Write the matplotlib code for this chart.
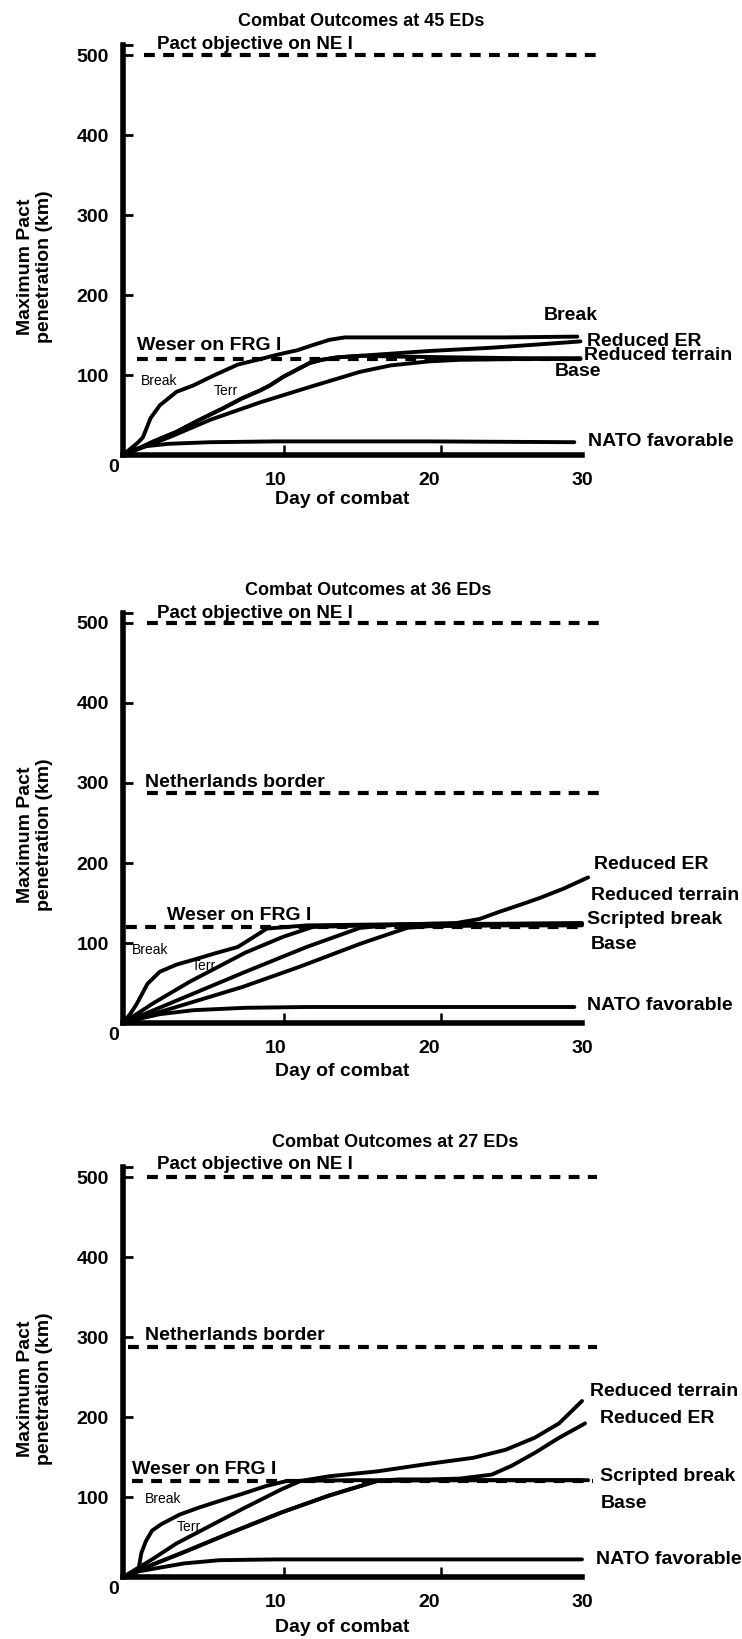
import matplotlib
matplotlib.use("Agg")
import matplotlib.pyplot as plt

plt.rcParams['font.family'] = ['Liberation Sans', 'DejaVu Sans']
plt.rcParams['font.weight'] = 'bold'

# reference levels (km)
pact_km = 500
netherlands_km = 288
weser_km = 120

titles = ["Combat Outcomes at 45 EDs", "Combat Outcomes at 36 EDs", "Combat Outcomes at 27 EDs"]

# --- 45 EDs ---
d_break45 = [0, 0.5, 1.0, 1.3, 1.8, 2.4, 3.5, 4.6, 6.0, 7.5, 9.0, 10.0, 11.4, 12.5, 13.5, 14.5, 20, 25, 29.7]
k_break45 = [0, 8, 16, 22, 46, 62, 79, 87, 100, 113, 120, 125, 131, 138, 144, 147, 147, 147, 148]
d_terr45 = [0, 1, 2, 3.5, 5, 6.5, 7.8, 9, 9.6, 10.5, 11.3, 12.2, 13, 14, 15.5, 18, 22, 26, 29.9]
k_terr45 = [0, 8, 17, 29, 44, 58, 71, 81, 87, 98, 106, 115, 119, 122, 124, 123, 122, 121, 121]
d_er45 = [0, 1, 2, 3.5, 5, 6.5, 7.8, 9, 9.6, 10.5, 11.3, 12.2, 13, 14, 17, 20, 24, 27, 29.9]
k_er45 = [0, 8, 17, 29, 44, 58, 71, 81, 87, 98, 106, 115, 119, 122, 126, 130, 134, 138, 142]
d_base45 = [0, 3, 5.7, 9, 12.2, 15.5, 17.5, 20, 22, 26, 29.9]
k_base45 = [0, 22, 44, 66, 85, 104, 112, 117, 119, 120, 120]
d_nato45 = [0, 0.7, 1.5, 3, 5.7, 10, 20, 29.5]
k_nato45 = [0, 7, 11, 14, 16, 17, 17, 16]

# --- 36 EDs ---
d_break36 = [0, 0.5, 0.9, 1.6, 2.4, 3.5, 4.6, 6, 7.5, 8.5, 9.4, 12, 16, 20, 25, 30]
k_break36 = [0, 12, 24, 49, 64, 73, 79, 87, 95, 107, 118, 122, 123, 124, 124, 124]
d_terr36 = [0, 2, 4.4, 8, 10.5, 12.4, 16, 20, 25, 30]
k_terr36 = [0, 25, 52, 88, 108, 120, 122, 123, 124, 125]
d_er36 = [0, 4, 8, 12, 15.5, 18, 21.8, 23.3, 24.6, 26, 27.2, 28.8, 30.4]
k_er36 = [0, 32, 64, 95, 119, 123, 125, 130, 139, 148, 156, 168, 182]
d_base36 = [0, 4, 7.8, 11.5, 15.5, 17.5, 18.6, 20, 25, 30]
k_base36 = [0, 23, 45, 70, 99, 112, 119, 121, 122, 122]
d_nato36 = [0, 1, 2.4, 4.6, 8, 12, 20, 29.5]
k_nato36 = [0, 5, 11, 16, 19, 20, 20, 20]

# --- 27 EDs ---
d_break27 = [0, 0.7, 1.0, 1.2, 1.5, 1.9, 2.5, 3.7, 5, 6.3, 7.8, 9.4, 10.7, 15, 20, 25, 30.4]
k_break27 = [0, 2, 8, 30, 45, 58, 66, 78, 87, 95, 104, 114, 120, 121, 121, 121, 121]
d_terr27 = [0, 1.9, 3.5, 5.1, 7.9, 10.4, 11.6, 13.5, 16.6, 19.8, 22.9, 25, 26.9, 28.5, 30]
k_terr27 = [0, 22, 42, 58, 86, 110, 120, 126, 132, 141, 149, 159, 174, 192, 220]
d_er27 = [0, 2, 4.1, 7, 10.4, 13.5, 16.6, 18, 20, 22, 24.1, 25.4, 26.9, 28.5, 30.2]
k_er27 = [0, 16, 32, 55, 81, 102, 120, 122, 122, 123, 128, 139, 155, 174, 192]
d_base27 = [0, 2, 4.1, 7, 10.4, 13.5, 16.6, 20, 25, 30]
k_base27 = [0, 16, 32, 55, 81, 102, 120, 121, 121, 121]
d_nato27 = [0, 1, 2.5, 4, 6.3, 10, 20, 30]
k_nato27 = [0, 7, 12, 17, 21, 22, 22, 22]

W, H = 742, 1639
PX_DAY = 15.3
PX_KM = 0.8
X0 = 123

fig = plt.figure(figsize=(W / 100, H / 100), dpi=100)


def make_axes(y0, xlab_km):
    ax = fig.add_axes([X0 / W, (H - y0) / H, 34 * PX_DAY / W, 512 * PX_KM / H])
    ax.set_xlim(0, 34)
    ax.set_ylim(0, 512)
    for s in ['top', 'right']:
        ax.spines[s].set_visible(False)
    ax.spines['left'].set_linewidth(4)
    ax.spines['bottom'].set_linewidth(4)
    ax.spines['bottom'].set_bounds(0, 30)
    # labels at 10/20/30, the little tick marks sit a bit to the right as drawn
    ax.set_xticks([10, 20, 30])
    ax.set_xticklabels(['10', '20', '30'])
    ax.set_xticks([10.5, 20.8, 30], minor=True)
    ax.tick_params(axis='x', which='major', length=0, pad=12, labelsize=14)
    ax.tick_params(axis='x', which='minor', direction='in', length=7, width=1.8)
    ax.set_yticks([100, 200, 300, 400, 500])
    ax.set_yticks([512], minor=True)
    ax.tick_params(axis='y', which='both', direction='in', length=7, width=2, pad=10, labelsize=14)
    ax.annotate('0', xy=(0, 0), xytext=(-7, -9), textcoords='offset points',
                ha='center', va='center', fontsize=14)
    ax.text(-5.75, 235, 'Maximum Pact\npenetration (km)', rotation=90, ha='center',
            va='center', fontsize=14, linespacing=1.1)
    ax.text(14.3, xlab_km, 'Day of combat', ha='center', va='center', fontsize=14)
    return ax


def curve(ax, d, k):
    ax.plot(d, k, color='k', lw=2.8, solid_joinstyle='round', solid_capstyle='round', clip_on=False)


def ref_line(ax, x0, x1, v):
    ax.plot([x0, x1], [v, v], color='k', lw=3.0, dashes=(2.6, 2.0), clip_on=False)


# ---------- panel 1 ----------
ax = make_axes(455, -56)
ax.text(15.6, 542, titles[0], ha='center', va='center', fontsize=13)
ref_line(ax, 1.4, 31.3, pact_km)
ref_line(ax, 0.9, 29.9, weser_km)
for d, k in [(d_break45, k_break45), (d_terr45, k_terr45), (d_er45, k_er45),
             (d_base45, k_base45), (d_nato45, k_nato45)]:
    curve(ax, d, k)
ax.text(2.2, 513, 'Pact objective on NE I', ha='left', va='center', fontsize=13.5)
ax.text(0.9, 137, 'Weser on FRG I', ha='left', va='center', fontsize=14)
ax.text(1.2, 92, 'Break', ha='left', va='center', fontsize=10, fontweight='normal')
ax.text(5.9, 80, 'Terr', ha='left', va='center', fontsize=10, fontweight='normal')
ax.text(27.5, 174, 'Break', ha='left', va='center', fontsize=14)
ax.text(30.3, 142, 'Reduced ER', ha='left', va='center', fontsize=14)
ax.text(30.1, 124, 'Reduced terrain', ha='left', va='center', fontsize=14)
ax.text(28.2, 105, 'Base', ha='left', va='center', fontsize=14)
ax.text(30.4, 17, 'NATO favorable', ha='left', va='center', fontsize=14)

# ---------- panel 2 ----------
ax = make_axes(1023, -60)
ax.text(16.0, 540, titles[1], ha='center', va='center', fontsize=13)
ref_line(ax, 1.6, 31.2, pact_km)
ref_line(ax, 1.6, 31.2, netherlands_km)
ref_line(ax, 0.2, 29.9, weser_km)
for d, k in [(d_break36, k_break36), (d_terr36, k_terr36), (d_er36, k_er36),
             (d_base36, k_base36), (d_nato36, k_nato36)]:
    curve(ax, d, k)
ax.text(2.2, 512, 'Pact objective on NE I', ha='left', va='center', fontsize=13.5)
ax.text(1.45, 301, 'Netherlands border', ha='left', va='center', fontsize=14)
ax.text(2.9, 135, 'Weser on FRG I', ha='left', va='center', fontsize=14)
ax.text(0.6, 91, 'Break', ha='left', va='center', fontsize=10, fontweight='normal')
ax.text(4.5, 71, 'Terr', ha='left', va='center', fontsize=10, fontweight='normal')
ax.text(30.8, 198, 'Reduced ER', ha='left', va='center', fontsize=14)
ax.text(30.6, 160, 'Reduced terrain', ha='left', va='center', fontsize=14)
ax.text(30.3, 130, 'Scripted break', ha='left', va='center', fontsize=14)
ax.text(30.6, 98, 'Base', ha='left', va='center', fontsize=14)
ax.text(30.3, 22, 'NATO favorable', ha='left', va='center', fontsize=14)

# ---------- panel 3 ----------
ax = make_axes(1577, -63)
ax.text(17.8, 543, titles[2], ha='center', va='center', fontsize=13)
ref_line(ax, 1.6, 31.0, pact_km)
ref_line(ax, 0.3, 31.0, netherlands_km)
ref_line(ax, 0.6, 30.7, weser_km)
for d, k in [(d_break27, k_break27), (d_terr27, k_terr27), (d_er27, k_er27),
             (d_base27, k_base27), (d_nato27, k_nato27)]:
    curve(ax, d, k)
ax.text(2.2, 516, 'Pact objective on NE I', ha='left', va='center', fontsize=13.5)
ax.text(1.45, 302, 'Netherlands border', ha='left', va='center', fontsize=14)
ax.text(0.6, 135, 'Weser on FRG I', ha='left', va='center', fontsize=14)
ax.text(1.4, 98, 'Break', ha='left', va='center', fontsize=10, fontweight='normal')
ax.text(3.5, 62, 'Terr', ha='left', va='center', fontsize=10, fontweight='normal')
ax.text(30.5, 232, 'Reduced terrain', ha='left', va='center', fontsize=14)
ax.text(31.2, 198, 'Reduced ER', ha='left', va='center', fontsize=14)
ax.text(31.2, 126, 'Scripted break', ha='left', va='center', fontsize=14)
ax.text(31.2, 92, 'Base', ha='left', va='center', fontsize=14)
ax.text(30.9, 22, 'NATO favorable', ha='left', va='center', fontsize=14)

fig.savefig('out.png', dpi=100)
